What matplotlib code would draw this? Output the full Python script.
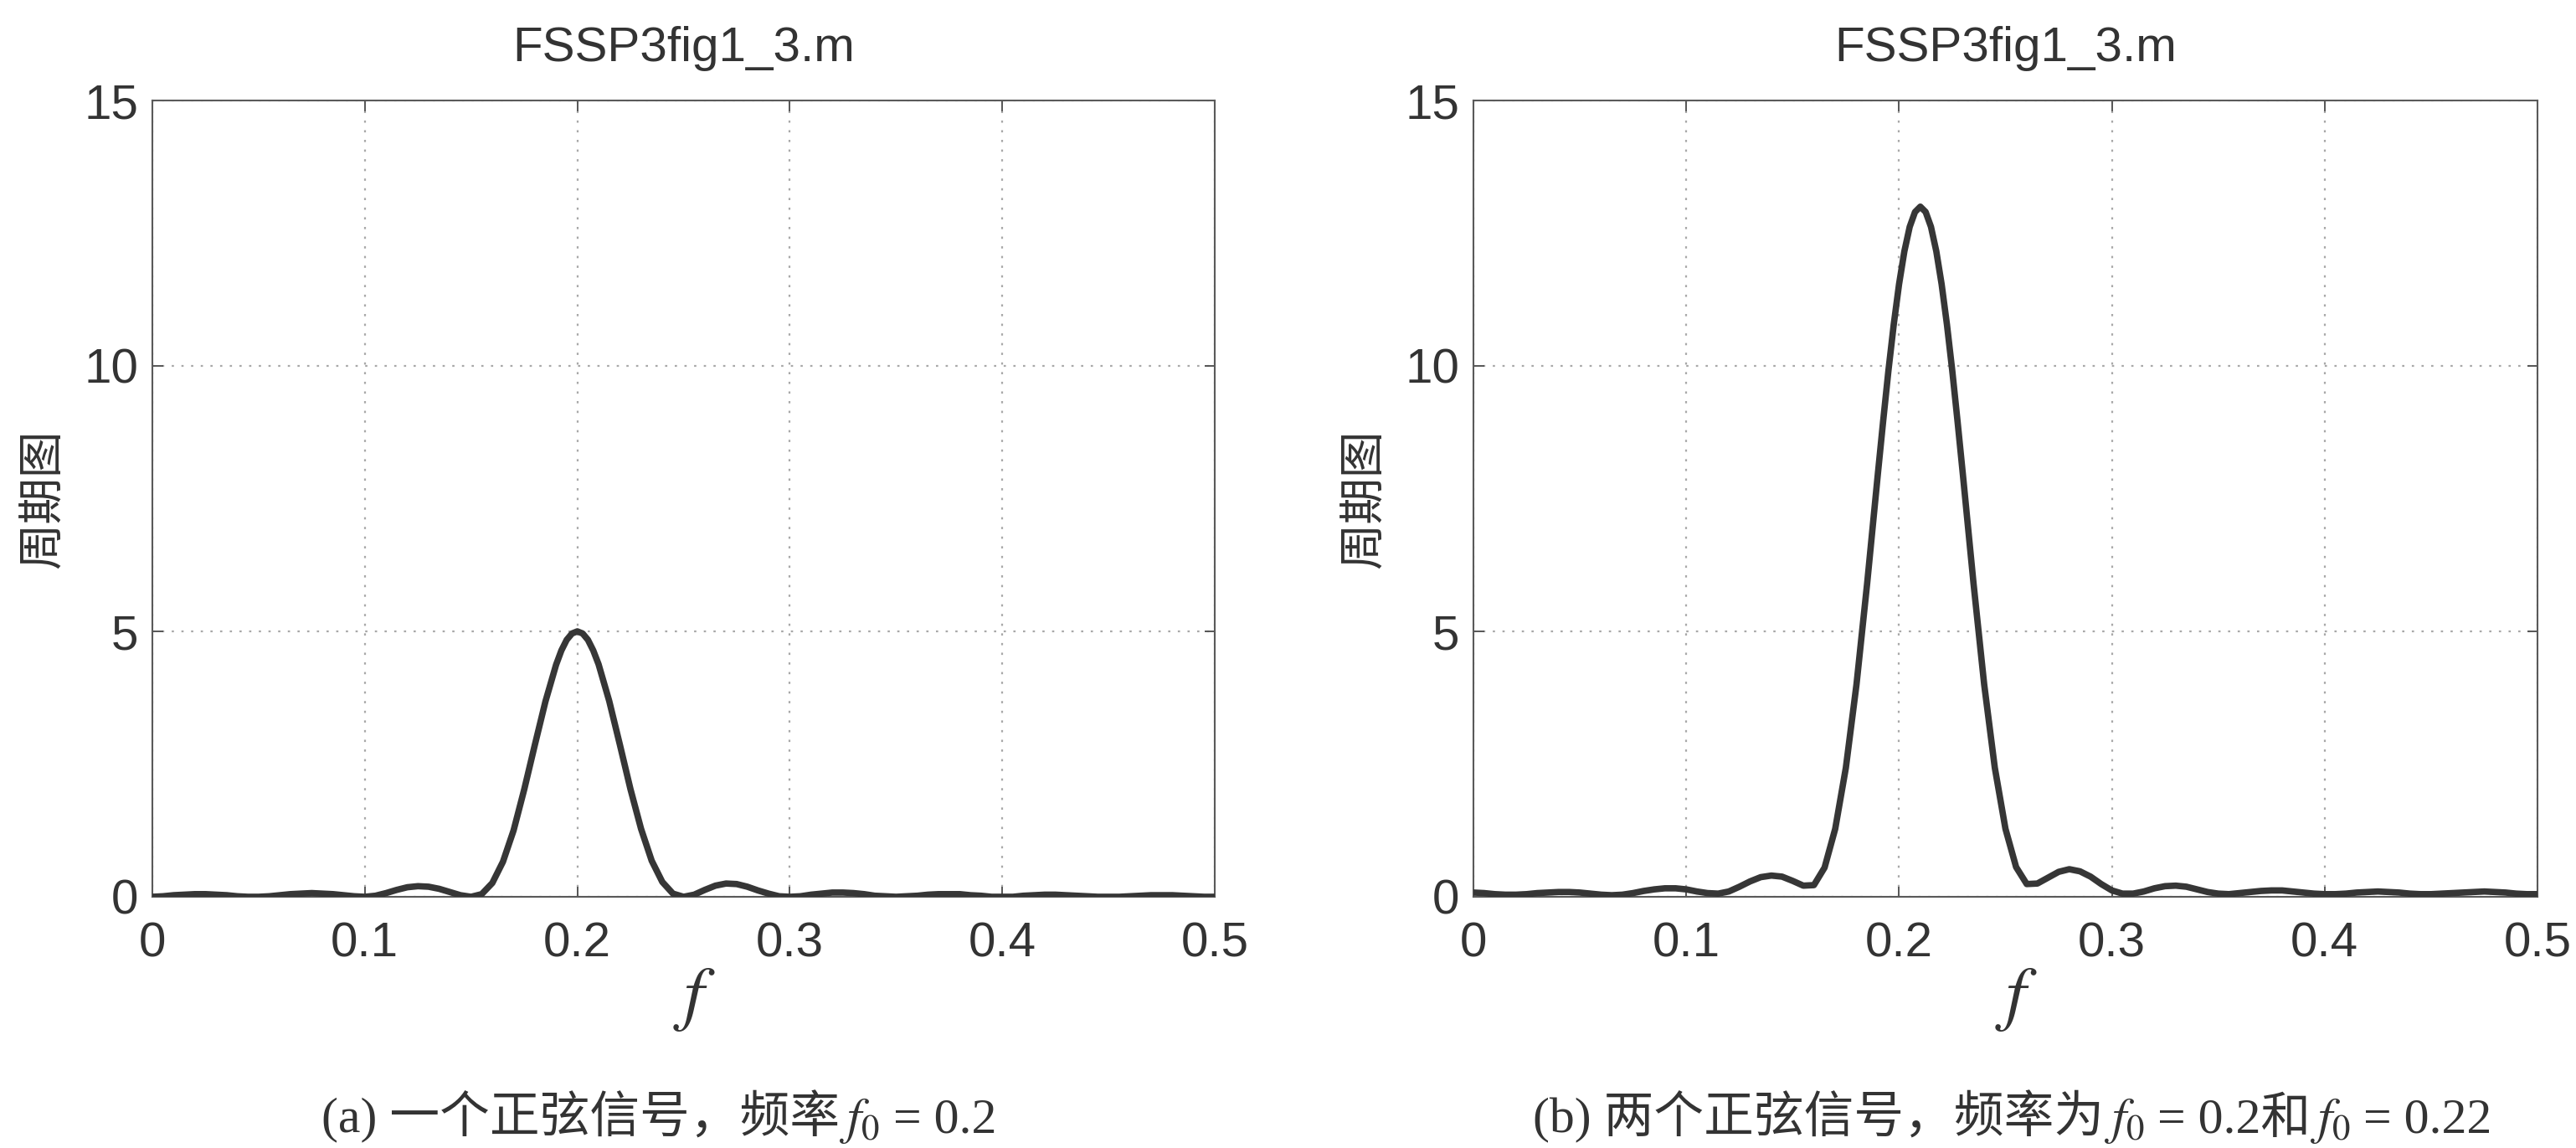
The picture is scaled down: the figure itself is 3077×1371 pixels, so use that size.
import numpy as np
import matplotlib.pyplot as plt
from matplotlib.offsetbox import TextArea, HPacker, AnnotationBbox

plt.rcParams['mathtext.fontset'] = 'stix'

# -------------------------
# Data
# -------------------------

freq = np.linspace(0, 0.5, 101)

# (a) one sinusoid, f0 = 0.2
periodogram_one = [
    0.00, 0.01, 0.03, 0.04, 0.05, 0.05, 0.04, 0.03, 0.01, 0.00,
    0.00, 0.01, 0.03, 0.05, 0.06, 0.07, 0.06, 0.05, 0.03, 0.01,
    0.00, 0.02, 0.07, 0.13, 0.18, 0.20, 0.19, 0.15, 0.09, 0.03,
    0.00, 0.05, 0.26, 0.66, 1.25, 2.02, 2.86, 3.68, 4.37, 4.84,
    5.00, 4.84, 4.38, 3.69, 2.87, 2.03, 1.28, 0.68, 0.28, 0.06,
    0.00, 0.04, 0.13, 0.21, 0.25, 0.24, 0.19, 0.12, 0.06, 0.01,
    0.00, 0.01, 0.04, 0.06, 0.08, 0.08, 0.07, 0.05, 0.02, 0.01,
    0.00, 0.01, 0.02, 0.04, 0.05, 0.05, 0.05, 0.03, 0.02, 0.00,
    0.00, 0.00, 0.02, 0.03, 0.04, 0.04, 0.03, 0.02, 0.01, 0.00,
    0.00, 0.00, 0.01, 0.02, 0.03, 0.03, 0.03, 0.02, 0.01, 0.00,
    0.00,
]
# extra readings around the top of peak (a)
peak_freq_one = [0.1925, 0.1975, 0.2025, 0.2075]
peak_vals_one = [4.64, 4.96, 4.96, 4.64]

# (b) two sinusoids, f0 = 0.2 and 0.22
periodogram_two = [
    0.08, 0.07, 0.05, 0.04, 0.04, 0.05, 0.07, 0.08, 0.09, 0.09,
    0.08, 0.06, 0.04, 0.03, 0.04, 0.07, 0.11, 0.14, 0.16, 0.16,
    0.14, 0.10, 0.07, 0.06, 0.10, 0.19, 0.29, 0.37, 0.40, 0.38,
    0.30, 0.21, 0.22, 0.55, 1.28, 2.43, 4.00, 5.90, 7.95, 9.91,
    11.54, 12.62, 13.00, 12.62, 11.54, 9.91, 7.95, 5.90, 4.00, 2.43,
    1.28, 0.56, 0.24, 0.25, 0.36, 0.47, 0.52, 0.48, 0.38, 0.24,
    0.12, 0.06, 0.06, 0.10, 0.16, 0.20, 0.21, 0.19, 0.14, 0.09,
    0.06, 0.05, 0.07, 0.09, 0.11, 0.12, 0.12, 0.10, 0.08, 0.06,
    0.05, 0.05, 0.06, 0.08, 0.09, 0.10, 0.09, 0.08, 0.06, 0.05,
    0.05, 0.06, 0.07, 0.08, 0.09, 0.10, 0.09, 0.08, 0.06, 0.05,
    0.05,
]
# extra readings around the top of peak (b)
peak_freq_two = [0.1925, 0.1975, 0.2025, 0.2075, 0.2125, 0.2175, 0.2225, 0.2275]
peak_vals_two = [8.95, 10.78, 12.16, 12.90, 12.90, 12.16, 10.78, 8.95]

x_ticks = [0, 0.1, 0.2, 0.3, 0.4, 0.5]
x_labels = ["0", "0.1", "0.2", "0.3", "0.4", "0.5"]
y_ticks = [0, 5, 10, 15]

title = "FSSP3fig1_3.m"
y_label = "周期图"

# caption pieces: plain text and the italic f0
captions = [
    [("(a) 一个正弦信号，频率", "txt"), (r"$f_0$", "math"), (" = 0.2", "txt")],
    [("(b) 两个正弦信号，频率为", "txt"), (r"$f_0$", "math"),
     (" = 0.2和", "txt"), (r"$f_0$", "math"), (" = 0.22", "txt")],
]


def merged(f_main, v_main, f_extra, v_extra):
    f = np.concatenate([f_main, f_extra])
    v = np.concatenate([v_main, v_extra])
    order = np.argsort(f)
    return f[order], v[order]


# -------------------------
# Figure
# -------------------------

W, H = 3077, 1371
fig = plt.figure(figsize=(W / 100, H / 100), dpi=100)

line_color = "#363636"
text_color = "#333333"
sans = ["Liberation Sans", "DejaVu Sans"]
serif_cjk = ["Liberation Serif", "Noto Sans CJK SC"]

ax_a = fig.add_axes([182 / W, 1 - 1071 / H, 1269 / W, 951 / H])
ax_b = fig.add_axes([1760 / W, 1 - 1071 / H, 1271 / W, 951 / H])

series = [
    (ax_a, merged(freq, periodogram_one, peak_freq_one, peak_vals_one)),
    (ax_b, merged(freq, periodogram_two, peak_freq_two, peak_vals_two)),
]

for ax, (fx, fy) in series:
    ax.plot(fx, fy, color=line_color, lw=5.5,
            solid_joinstyle="round", solid_capstyle="round", zorder=3)
    ax.set_xlim(0, 0.5)
    ax.set_ylim(0, 15)
    ax.set_xticks(x_ticks)
    ax.set_xticklabels(x_labels)
    ax.set_yticks(y_ticks)
    ax.grid(True, color="#a8a8a8", linestyle=(0, (1.2, 4)), lw=1.6)
    ax.tick_params(which="both", direction="in", top=True, right=True,
                   length=9, width=1.4, color="#555555",
                   labelsize=42, labelcolor=text_color)
    ax.tick_params(axis="x", pad=21)
    ax.tick_params(axis="y", pad=12)
    for lab in ax.get_xticklabels() + ax.get_yticklabels():
        lab.set_family(sans)
    for sp in ax.spines.values():
        sp.set_color("#5a5a5a")
        sp.set_linewidth(1.5)

    ax.text(0.5, 1.065, title, transform=ax.transAxes, ha="center",
            va="center", fontsize=42, family=sans, color=text_color)
    ax.set_ylabel(y_label, family=["Noto Sans CJK SC", "DejaVu Sans"],
                  fontsize=40, color=text_color)
    ax.yaxis.set_label_coords(-0.08, 0.5)
    ax.text(0.51, -0.128, r"$f$", transform=ax.transAxes, ha="center",
            va="center", fontsize=62, color=text_color)

# captions under each panel
cap_x = [787 / W, 2404 / W]
cap_y = 1 - 1335 / H
for parts, cx in zip(captions, cap_x):
    boxes = []
    for s, kind in parts:
        if kind == "math":
            props = dict(fontsize=44, color=text_color)
        else:
            props = dict(fontsize=43, family=serif_cjk, color=text_color)
        boxes.append(TextArea(s, textprops=props))
    pack = HPacker(children=boxes, align="baseline", pad=0, sep=0)
    ab = AnnotationBbox(pack, (cx, cap_y), xycoords="figure fraction",
                        frameon=False, box_alignment=(0.5, 0.5))
    fig.add_artist(ab)

fig.savefig("out.png", dpi=100)
